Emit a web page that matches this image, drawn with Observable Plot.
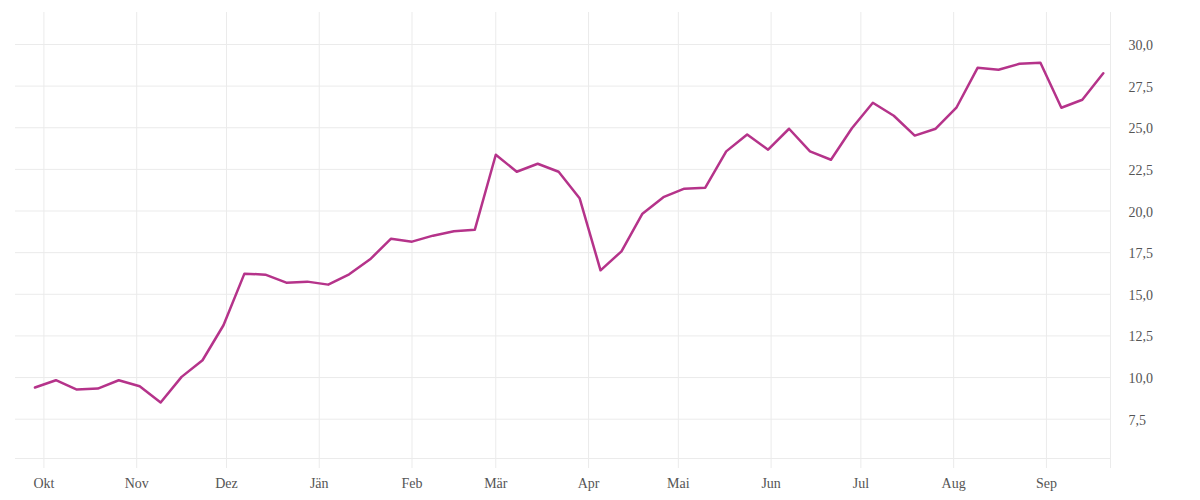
<!DOCTYPE html>
<html>
<head>
<meta charset="utf-8">
<script src="https://cdn.jsdelivr.net/npm/d3@7"></script>
<script src="https://cdn.jsdelivr.net/npm/@observablehq/plot@0.6"></script>
<style>
  html, body { margin: 0; padding: 0; background: #fff; }
  #chart svg { display: block; }
</style>
</head>
<body>
<div id="chart"></div>
<script>
// Weekly series, starting Monday 2020-09-28
const startDate = "2020-09-28";
const values = [
  9.40, 9.84, 9.28, 9.34, 9.84, 9.48, 8.50, 10.04, 11.04, 13.14,
  16.24, 16.18, 15.70, 15.76, 15.58, 16.20, 17.10, 18.34, 18.16, 18.52,
  18.78, 18.88, 23.38, 22.36, 22.84, 22.36, 20.77, 16.44, 17.58, 19.84,
  20.83, 21.34, 21.40, 23.58, 24.60, 23.68, 24.94, 23.58, 23.08, 24.97,
  26.50, 25.72, 24.53, 24.94, 26.23, 28.60, 28.48, 28.84, 28.90, 26.20,
  26.68, 28.27
];
const monthTicks = ["2020-10-01","2020-11-01","2020-12-01","2021-01-01","2021-02-01","2021-03-01",
                    "2021-04-01","2021-05-01","2021-06-01","2021-07-01","2021-08-01","2021-09-01"];
const monthLabels = ["Okt","Nov","Dez","Jän","Feb","Mär","Apr","Mai","Jun","Jul","Aug","Sep"];
const yTicks = [7.5, 10, 12.5, 15, 17.5, 20, 22.5, 25, 27.5, 30];
const xDomain = ["2020-09-21T12:00Z", "2021-09-22T10:00Z"];
const yDomain = [5.14, 31.92];

const start = new Date(startDate + "T00:00Z");
const data = values.map((v, i) => ({date: new Date(start.getTime() + i * 7 * 864e5), value: v}));
const tickDates = monthTicks.map(d => new Date(d + "T00:00Z"));
const labelOf = new Map(tickDates.map((d, i) => [+d, monthLabels[i]]));

const grid = "#ebebeb";
const font = "'Liberation Serif', serif";

const chart = Plot.plot({
  width: 1200,
  height: 500,
  marginLeft: 15,
  marginRight: 90,
  marginTop: 12,
  marginBottom: 42,
  style: {fontFamily: font, fontSize: "14px", color: "#555", background: "#fff"},
  x: {type: "utc", domain: xDomain.map(d => new Date(d))},
  y: {domain: yDomain},
  marks: [
    Plot.gridY(yTicks, {stroke: grid, strokeOpacity: 1, strokeWidth: 1}),
    Plot.gridX(tickDates, {stroke: grid, strokeOpacity: 1, strokeWidth: 1}),
    Plot.gridX([new Date(xDomain[1])], {stroke: grid, strokeOpacity: 1, strokeWidth: 1}),
    Plot.axisX(tickDates, {tickSize: 10, tickPadding: 10, stroke: grid, strokeOpacity: 1,
      tickFormat: d => labelOf.get(+d), label: null, fill: "#555"}),
    Plot.axisX([new Date(xDomain[1])], {tickSize: 10, tickFormat: () => "", stroke: grid, strokeOpacity: 1, label: null}),
    Plot.ruleY([yDomain[0]], {stroke: grid, strokeWidth: 1}),
    Plot.axisY(yTicks, {anchor: "right", tickSize: 0, tickPadding: 18, textAnchor: "start", dy: 1,
      tickFormat: d => d.toFixed(1).replace(".", ","), label: null, fill: "#555"}),
    Plot.lineY(data, {x: "date", y: "value", stroke: "#b5338a", strokeWidth: 2.5, curve: "linear"})
  ]
});
document.getElementById("chart").appendChild(chart);
</script>
</body>
</html>
